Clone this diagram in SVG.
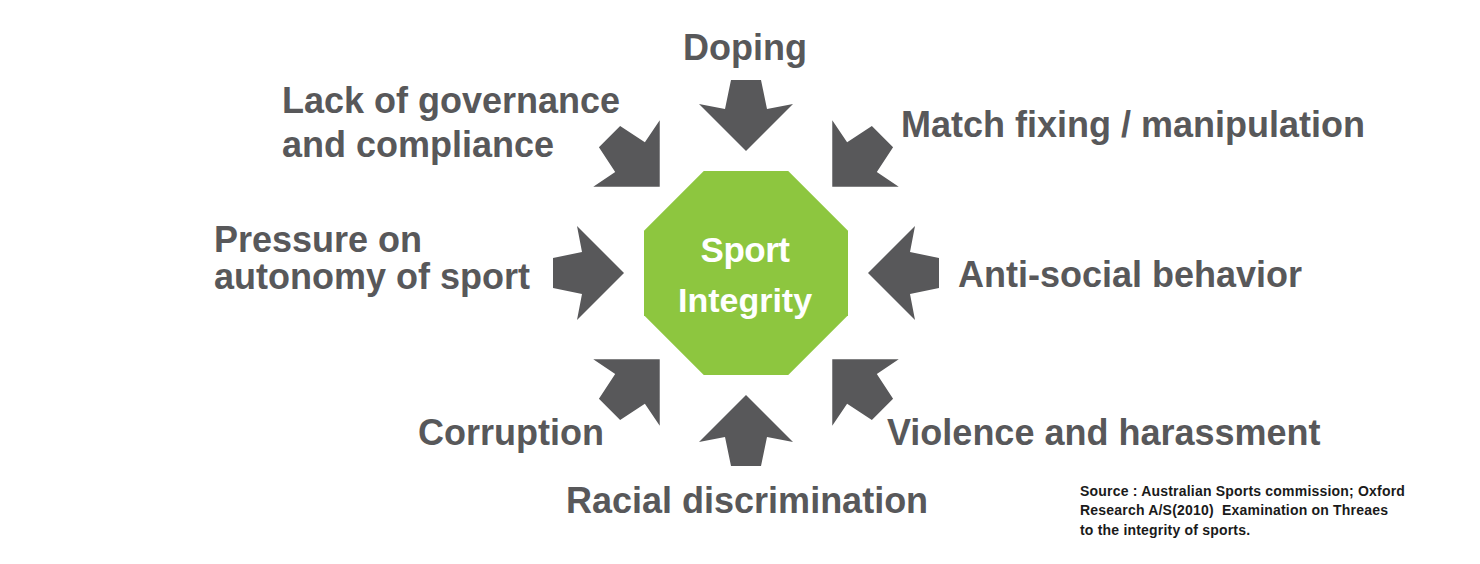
<svg xmlns="http://www.w3.org/2000/svg" width="1480" height="564" viewBox="0 0 1480 564">
  <style>
    .lbl { font-family: "Liberation Sans", Arial, sans-serif; font-weight: bold; font-size: 36px; fill: #58585a; letter-spacing: 0px; }
    .ctr { font-family: "Liberation Sans", Arial, sans-serif; font-weight: bold; font-size: 34px; fill: #ffffff; text-anchor: middle; }
    .src { font-family: "Liberation Sans", Arial, sans-serif; font-weight: bold; font-size: 14px; fill: #1a1a1a; letter-spacing: 0.2px; }
    .arr { fill: #58585a; }
  </style>
  <defs>
    <path id="arrow" class="arr" d="M0,0 L47,-47 L21,-42 L15,-71 L-15,-71 L-21,-42 L-47,-47 Z"/>
  </defs>
  <rect width="1480" height="564" fill="#ffffff"/>

  <g id="connectors">
    <use href="#arrow" transform="translate(746,273) rotate(0) translate(0,-122)"/>
    <use href="#arrow" transform="translate(746,273) rotate(45) translate(0,-122)"/>
    <use href="#arrow" transform="translate(746,273) rotate(90) translate(0,-122)"/>
    <use href="#arrow" transform="translate(746,273) rotate(135) translate(0,-122)"/>
    <use href="#arrow" transform="translate(746,273) rotate(180) translate(0,-122)"/>
    <use href="#arrow" transform="translate(746,273) rotate(225) translate(0,-122)"/>
    <use href="#arrow" transform="translate(746,273) rotate(270) translate(0,-122)"/>
    <use href="#arrow" transform="translate(746,273) rotate(315) translate(0,-122)"/>
  </g>

  <g id="sport-integrity">
    <polygon points="703.75,171 788.25,171 848,230.75 848,315.25 788.25,375 703.75,375 644,315.25 644,230.75" fill="#8dc63f"/>
    <text class="ctr" x="745" y="262" style="font-size:35px;letter-spacing:-0.5px">Sport</text>
    <text class="ctr" x="745" y="312">Integrity</text>
  </g>

  <g id="doping">
    <text class="lbl" x="745" y="60" text-anchor="middle">Doping</text>
  </g>
  <g id="governance">
    <text class="lbl" x="282" y="113">Lack of governance</text>
    <text class="lbl" x="282" y="157">and compliance</text>
  </g>
  <g id="match-fixing">
    <text class="lbl" x="901" y="137">Match fixing / manipulation</text>
  </g>
  <g id="pressure">
    <text class="lbl" x="214" y="252">Pressure on</text>
    <text class="lbl" x="214" y="289">autonomy of sport</text>
  </g>
  <g id="anti-social">
    <text class="lbl" x="958" y="287">Anti-social behavior</text>
  </g>
  <g id="corruption">
    <text class="lbl" x="418" y="445">Corruption</text>
  </g>
  <g id="violence">
    <text class="lbl" x="887" y="445">Violence and harassment</text>
  </g>
  <g id="racial">
    <text class="lbl" x="566" y="513">Racial discrimination</text>
  </g>

  <g id="source">
    <text class="src" x="1080" y="496">Source : Australian Sports commission; Oxford</text>
    <text class="src" x="1080" y="515" xml:space="preserve">Research A/S(2010)  Examination on Threaes</text>
    <text class="src" x="1080" y="535">to the integrity of sports.</text>
  </g>
</svg>
